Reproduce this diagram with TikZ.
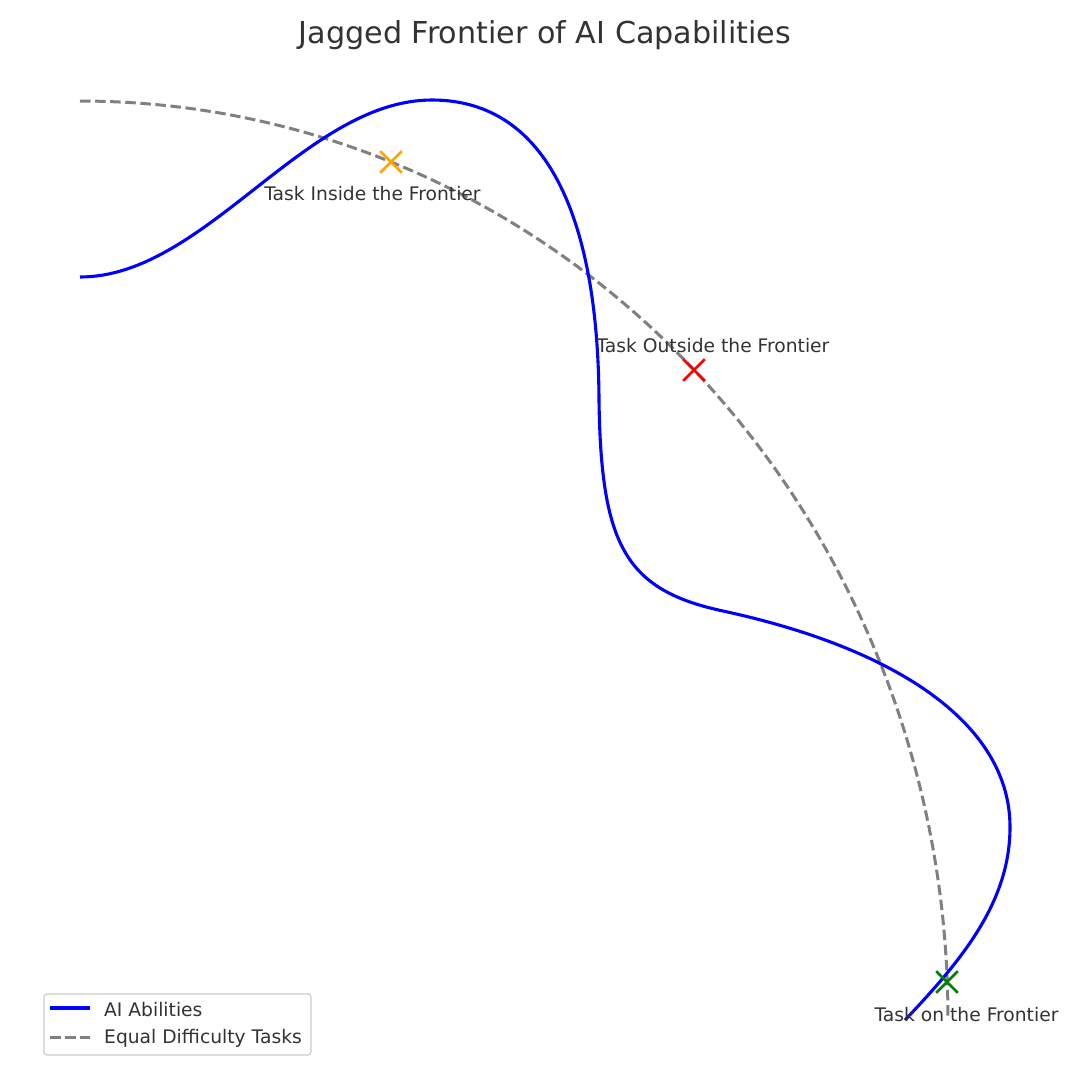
\documentclass[tikz,border=0pt]{standalone}
\usepackage{fontspec}
\setmainfont{DejaVu Sans}
\usetikzlibrary{shapes.misc}
\definecolor{txt}{HTML}{333333}
\definecolor{dgray}{HTML}{808080}
\definecolor{legborder}{HTML}{CCCCCC}
\definecolor{morange}{HTML}{FFA500}
\begin{document}
\begin{tikzpicture}[x=1pt,y=-1pt,
  lbl/.style={font=\fontsize{18.7}{22}\selectfont, text=txt, inner sep=0pt, anchor=base},
  leglbl/.style={font=\fontsize{18.7}{22}\selectfont, text=txt, inner sep=0pt, anchor=base west},
  ability/.style={draw=blue, line width=3.1pt},
  equal/.style={draw=dgray, line width=3pt, dash pattern=on 10.5pt off 4.6pt},
  xmark/.style={cross out, draw=#1, line width=2.6pt, minimum size=19pt, inner sep=0pt}]
\useasboundingbox (0,0) rectangle (1080,1074);
\fill[white] (0,0) rectangle (1080,1074);
% title
\node[lbl, font=\fontsize{30.2}{34}\selectfont] (title) at (545,43) {Jagged Frontier of AI Capabilities};
% equal difficulty arc
\draw[equal] plot[domain=90:0, samples=150] ({80+868*cos(\x)}, {1018-917*sin(\x)});
% AI abilities curve
\draw[ability] (80,277)
  .. controls (205,277) and (305,100) .. (432,100)
  .. controls (548,100) and (598,220) .. (599,400)
  .. controls (601,545) and (625,590) .. (723,611)
  .. controls (903,650) and (1010,727) .. (1010,827)
  .. controls (1010,900) and (965,957) .. (905,1020);
% markers
\node[xmark=morange] (inside) at (391,162) {};
\node[xmark=red] (outside) at (694,370) {};
\node[xmark={green!50!black}] (on) at (947,982) {};
% labels
\node[lbl] (linside) at (372.5,200) {Task Inside the Frontier};
\node[lbl] (loutside) at (713,352) {Task Outside the Frontier};
\node[lbl] (lon) at (966.5,1021) {Task on the Frontier};
% legend
\draw[legborder, line width=1.2pt, rounded corners=3pt, fill=white] (44,994) rectangle (311,1055);
\coordinate (la1) at (50,1008);
\coordinate (la2) at (90,1008);
\coordinate (lb1) at (50,1037);
\coordinate (lb2) at (90,1037);
\draw[ability] (la1) -- (la2);
\draw[equal] (lb1) -- (lb2);
\node[leglbl] (leg1) at (104,1016) {AI Abilities};
\node[leglbl] (leg2) at (104,1043.5) {Equal Difficulty Tasks};
\end{tikzpicture}
\end{document}
